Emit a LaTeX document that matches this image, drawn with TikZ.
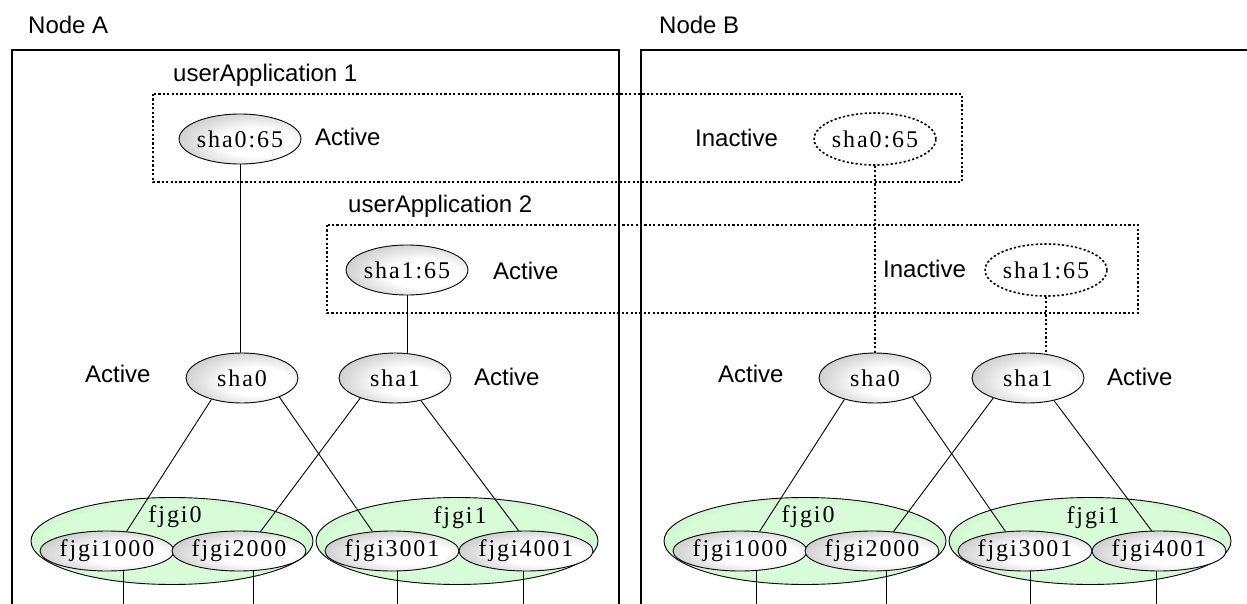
\documentclass[tikz,border=0pt]{standalone}
\usepackage{fontspec}
\setmainfont{Liberation Sans}
\newfontfamily\nodefont[LetterSpace=8]{Liberation Serif}
\usetikzlibrary{shapes.geometric}
\definecolor{gin}{RGB}{215,252,215}
\definecolor{gout}{RGB}{140,200,140}
\definecolor{eout}{RGB}{150,150,150}
\pgfdeclareradialshading{eshade}{\pgfpoint{8bp}{-4bp}}{%
  color(0bp)=(white); color(14bp)=(white); color(50bp)=(eout); color(80bp)=(eout)}
\pgfdeclareradialshading{gshade}{\pgfpoint{0bp}{0bp}}{%
  color(0bp)=(gin); color(22bp)=(gin); color(50bp)=(gout); color(80bp)=(gout)}
\begin{document}
\begin{tikzpicture}[x=1pt,y=-1pt,
  lbl/.style={font=\fontsize{24}{28}\selectfont, inner sep=0pt, anchor=west},
  ntxt/.style={font=\nodefont\fontsize{24}{28}\selectfont, inner sep=0pt},
  frame/.style={line width=1.5pt},
  dots/.style={line width=1.6pt, dash pattern=on 2.2pt off 2.2pt},
  gell/.style={ellipse, draw=black, line width=0.9pt, inner sep=0pt,
    shade, shading=eshade, ntxt,
    minimum width=112pt, minimum height=50pt},
  dell/.style={ellipse, draw=black, dots, fill=white, inner sep=0pt, ntxt,
    minimum width=112pt, minimum height=52pt},
  bigell/.style={ellipse, draw=black, line width=0.9pt, inner sep=0pt,
    shade, shading=gshade, minimum width=282pt, minimum height=87pt},
  iell/.style={ellipse, draw=black, line width=0.9pt, inner sep=0pt,
    shade, shading=eshade, ntxt,
    minimum width=130pt, minimum height=40pt},
  conn/.style={line width=0.9pt},
  dconn/.style={dots},
]
\clip (0,0) rectangle (1247,604);
\fill[white] (0,0) rectangle (1247,604);

% node frames
\node[lbl] (lA) at (28,25) {Node A};
\node[lbl] (lB) at (659,25) {Node B};
\draw[frame] (12,610) -- (12,50) -- (619,50) -- (619,610);
\draw[frame] (641,610) -- (641,50) -- (1252,50);

% userApplication boxes
\node[lbl, anchor=base west] (ua1) at (173,82) {userApplication 1};
\node[lbl, anchor=base west] (ua2) at (348,212) {userApplication 2};
\draw[dots] (153,94) rectangle (962,182);
\draw[dots] (327,225) rectangle (1138,313);

% upper ellipses
\node[gell] (sha065a) at (240,139) {sha0:65};
\node[lbl] (act1) at (315,137) {Active};
\node[gell] (sha165a) at (407,270) {sha1:65};
\node[lbl] (act2) at (493,271) {Active};
\node[lbl] (inact1) at (695,138) {Inactive};
\node[dell] (sha065b) at (875,139) {sha0:65};
\node[lbl] (inact2) at (883,269) {Inactive};
\node[dell] (sha165b) at (1046,270) {sha1:65};

% lower part, Node A
\node[gell] (sha0a) at (242,378) {sha0};
\node[gell] (sha1a) at (395,378) {sha1};
\node[lbl] (act3) at (85,374) {Active};
\node[lbl] (act4) at (474,377) {Active};
\node[bigell] (fjgi0a) at (172,541) {};
\node[bigell] (fjgi1a) at (457,541) {};
\node[ntxt] (fjgi0al) at (175,517) {fjgi0};
\node[ntxt] (fjgi1al) at (460,518) {fjgi1};
\node[iell] (fjgi1000a) at (107,551) {fjgi1000};
\node[iell] (fjgi2000a) at (239,551) {fjgi2000};
\node[iell] (fjgi3001a) at (392,551) {fjgi3001};
\node[iell] (fjgi4001a) at (526,551) {fjgi4001};

% lower part, Node B
\node[gell] (sha0b) at (875,378) {sha0};
\node[gell] (sha1b) at (1028,378) {sha1};
\node[lbl] (act5) at (718,374) {Active};
\node[lbl] (act6) at (1107,377) {Active};
\node[bigell] (fjgi0b) at (805,541) {};
\node[bigell] (fjgi1b) at (1090,541) {};
\node[ntxt] (fjgi0bl) at (808,517) {fjgi0};
\node[ntxt] (fjgi1bl) at (1093,518) {fjgi1};
\node[iell] (fjgi1000b) at (740,551) {fjgi1000};
\node[iell] (fjgi2000b) at (872,551) {fjgi2000};
\node[iell] (fjgi3001b) at (1025,551) {fjgi3001};
\node[iell] (fjgi4001b) at (1159,551) {fjgi4001};

% vertical connectors from userApplications
\draw[conn] (sha065a.south) -- (sha065a.south |- sha0a.north);
\draw[conn] (sha165a.south) -- (sha165a.south |- sha1a.north);
\draw[dconn] (sha065b.south) -- (sha065b.south |- sha0b.north);
\draw[dconn] (sha165b.south) -- (sha165b.south |- sha1b.north);

% crossing connectors
\foreach \s in {a,b}{
  \draw[conn] (sha0\s.215) -- (fjgi1000\s.45);
  \draw[conn] (sha0\s.-27) -- (fjgi3001\s.135);
  \draw[conn] (sha1\s.210) -- (fjgi2000\s.42);
  \draw[conn] (sha1\s.-41) -- (fjgi4001\s.110);
  \draw[conn] (fjgi1000\s.-50) -- +(0,60);
  \draw[conn] (fjgi2000\s.-54) -- +(0,60);
  \draw[conn] (fjgi3001\s.-76) -- +(0,60);
  \draw[conn] (fjgi4001\s.-96) -- +(0,60);
}
\end{tikzpicture}
\end{document}
